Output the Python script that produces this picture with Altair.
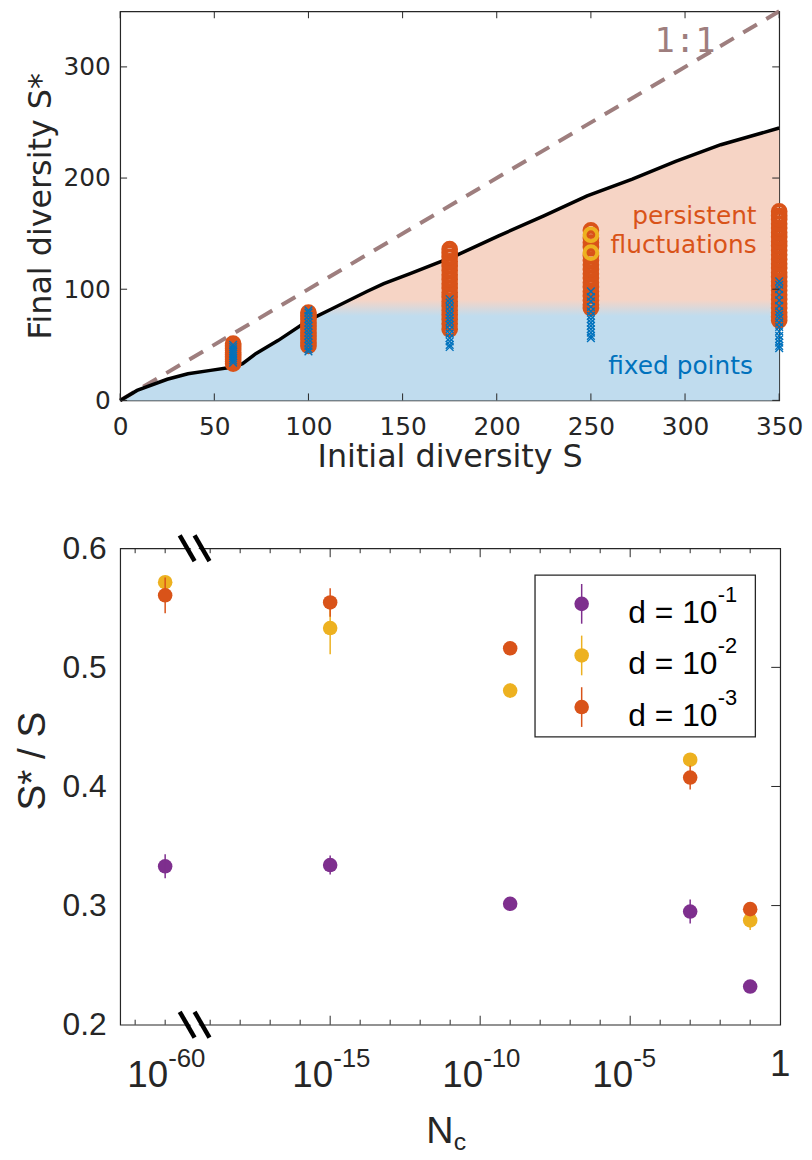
import altair as alt
import pandas as pd

# ---------------- top panel data ----------------
S_curve = [0, 9, 25, 36, 48, 60, 65, 72, 84, 100, 112, 131, 140, 154, 178, 201, 225, 248, 272, 295, 319, 350]
Sstar_curve = [0, 9, 19, 24, 27, 30, 33, 42, 54, 72, 82, 98, 105, 114, 130, 148, 166, 184, 199, 215, 230, 245]
diag_S = [0, 350]

initial_S = [60, 100, 175, 250, 350]
fluct_S60 = [33, 35, 37, 39, 41, 43, 45, 47, 49, 51]
fluct_S100 = [49, 52, 55, 58, 61, 64, 67, 70, 73, 76, 79]
fluct_S175 = [64, 69, 73, 77, 81, 85, 89, 93, 97, 101, 105, 109, 113, 117, 121, 125, 129, 133, 136]
fluct_S250 = [83, 86, 90, 94, 98, 102, 106, 110, 114, 118, 122, 126, 130, 138, 142, 146, 153]
fluct_S350 = [72, 75, 79, 83, 87, 91, 95, 99, 103, 107, 111, 115, 119, 123, 127, 131, 135, 139,
              143, 147, 151, 155, 159, 163, 166, 170]
fixed_S60 = [34, 36, 38, 40, 42, 44, 46, 48, 50]
fixed_S100 = [44, 46, 49, 52, 55, 58, 61, 64, 67, 70, 73, 76, 79, 81]
fixed_S175 = [48, 50, 53, 56, 60, 64, 68, 71, 74, 77, 80, 84, 88, 91]
fixed_S250 = [56, 58, 61, 64, 67, 70, 73, 76, 80, 84, 89, 93, 98]
fixed_S350 = [47, 49, 52, 55, 58, 62, 66, 70, 74, 77, 80, 85, 90, 95, 100, 104, 107]
fluct_lists = [fluct_S60, fluct_S100, fluct_S175, fluct_S250, fluct_S350]
fixed_lists = [fixed_S60, fixed_S100, fixed_S175, fixed_S250, fixed_S350]
yellow_S = [250, 250]
yellow_Sstar = [133, 149]

top_x_ticks = [0, 50, 100, 150, 200, 250, 300, 350]
top_y_ticks = [0, 100, 200, 300]

# ---------------- bottom panel data ----------------
Nc_exp = [-60, -15, -9, -3, -1]
mean_d1 = [0.333, 0.334, 0.3015, 0.295, 0.232]
err_d1 = [0.010, 0.008, 0.003, 0.010, 0.003]
mean_d2 = [0.5715, 0.533, 0.4805, 0.4225, 0.2875]
err_d2 = [0.005, 0.022, 0.006, 0.004, 0.008]
mean_d3 = [0.5605, 0.5545, 0.516, 0.4075, 0.297]
err_d3 = [0.015, 0.012, 0.003, 0.010, 0.003]
d_exp = ["-1", "-2", "-3"]
series_colors = ["#7e2f8e", "#edb120", "#d95319"]

bot_y_ticks = [0.2, 0.3, 0.4, 0.5, 0.6]
bot_label_exp = [-60, -15, -10, -5]
bot_major_exp = [-15, -10, -5]
bot_minor_exp = [-61, -60, -19, -18, -17, -16, -14, -13, -12, -11, -9, -8, -7, -6, -4, -3, -2, -1]

INK = "#262626"
FT = "DejaVu Sans"
FB = "Liberation Sans"
ORANGE = "#d95319"
BLUE = "#0072bd"
YELLOW = "#edb120"
BROWN = "#9e7e7e"


def axis_pos(e):
    # broken log axis: exponents below -20 are drawn left of the break
    return e if e > -20 else e + 39.5


# ================= top panel =================
W1, H1 = 664, 392
xs = alt.Scale(domain=[0, 350], nice=False, zero=False)
ys = alt.Scale(domain=[0, 350], nice=False, zero=False)
x_ax = alt.Axis(values=top_x_ticks, title="Initial diversity S", grid=False, domain=False,
                ticks=False, tickSize=0, labelFont=FT, labelFontSize=25, labelColor=INK,
                labelPadding=14, labelFlush=False, titleFont=FT, titleFontSize=32,
                titleFontWeight="normal", titleColor=INK, titlePadding=3)
y_ax = alt.Axis(values=top_y_ticks, title="Final diversity S*", grid=False, domain=False,
                ticks=False, tickSize=0, labelFont=FT, labelFontSize=25, labelColor=INK,
                labelPadding=10, labelFlush=False, titleFont=FT, titleFontSize=32,
                titleFontWeight="normal", titleColor=INK, titleX=-80, titleBaseline="middle")

curve_df = pd.DataFrame({"S": S_curve, "Sstar": Sstar_curve})
grad = alt.Gradient(gradient="linear", x1=0, x2=0, y1=0, y2=1,
                    stops=[alt.GradientStop(color="#f6d4c5", offset=0),
                           alt.GradientStop(color="#f6d4c5", offset=0.63),
                           alt.GradientStop(color="#c0dcee", offset=0.69),
                           alt.GradientStop(color="#c0dcee", offset=1)])
area = alt.Chart(curve_df).mark_area(color=grad, opacity=1).encode(
    x=alt.X("S:Q", scale=xs, axis=x_ax), y=alt.Y("Sstar:Q", scale=ys, axis=y_ax))
diag = alt.Chart(pd.DataFrame({"S": diag_S, "Sstar": diag_S})).mark_line(
    color=BROWN, strokeWidth=4, strokeDash=[16, 11]).encode(x="S:Q", y="Sstar:Q")
line = alt.Chart(curve_df).mark_line(color="black", strokeWidth=3.5).encode(x="S:Q", y="Sstar:Q")

fl_rows, fx_rows = [], []
for s, fl, fx in zip(initial_S, fluct_lists, fixed_lists):
    fl_rows += [{"S": s, "Sstar": v} for v in fl]
    fx_rows += [{"S": s, "Sstar": v} for v in fx]
fluct = alt.Chart(pd.DataFrame(fl_rows)).mark_point(
    shape="circle", filled=False, size=165, strokeWidth=4, color=ORANGE, opacity=1
).encode(x="S:Q", y="Sstar:Q")
yellow = alt.Chart(pd.DataFrame({"S": yellow_S, "Sstar": yellow_Sstar})).mark_point(
    shape="circle", filled=False, size=165, strokeWidth=4, color=YELLOW, opacity=1
).encode(x="S:Q", y="Sstar:Q")
fixed = alt.Chart(pd.DataFrame(fx_rows)).mark_point(
    shape="M-1,-1L1,1M-1,1L1,-1", filled=False, size=60, strokeWidth=1.4, color=BLUE, opacity=1
).encode(x="S:Q", y="Sstar:Q")

txt_df = pd.DataFrame({"S": [338, 338], "Sstar": [166, 140], "t": ["persistent", "fluctuations"]})
txt_fl = alt.Chart(txt_df).mark_text(font=FT, fontSize=25, color=ORANGE, align="right",
                                     baseline="middle").encode(x="S:Q", y="Sstar:Q", text="t:N")
txt_fp = alt.Chart(pd.DataFrame({"S": [336], "Sstar": [31], "t": ["fixed points"]})).mark_text(
    font=FT, fontSize=25, color=BLUE, align="right", baseline="middle").encode(x="S:Q", y="Sstar:Q", text="t:N")
txt_11 = alt.Chart(pd.DataFrame({"S": [300], "Sstar": [322], "t": ["1:1"]})).mark_text(
    font="DejaVu Sans Mono", fontSize=34, color=BROWN, align="center", baseline="middle"
).encode(x="S:Q", y="Sstar:Q", text="t:N")

xt = pd.DataFrame({"S": top_x_ticks})
yt = pd.DataFrame({"Sstar": top_y_ticks})
tk = dict(color=INK, strokeWidth=1)
tick_b = alt.Chart(xt).mark_rule(**tk).encode(x="S:Q", y=alt.value(H1), y2=alt.value(H1 - 7))
tick_t = alt.Chart(xt).mark_rule(**tk).encode(x="S:Q", y=alt.value(0), y2=alt.value(7))
tick_l = alt.Chart(yt).mark_rule(**tk).encode(y="Sstar:Q", x=alt.value(0), x2=alt.value(7))
tick_r = alt.Chart(yt).mark_rule(**tk).encode(y="Sstar:Q", x=alt.value(W1), x2=alt.value(W1 - 7))

top = alt.layer(area, diag, line, fluct, yellow, fixed, txt_fl, txt_fp, txt_11,
                tick_b, tick_t, tick_l, tick_r).properties(width=W1, height=H1)

# ================= bottom panel =================
W2, H2 = 665, 480
xb = alt.Scale(domain=[-22, 0], nice=False, zero=False)
yb = alt.Scale(domain=[0.2, 0.6], nice=False, zero=False)
yb_ax = alt.Axis(values=bot_y_ticks, format=".1f", title="S* / S", grid=False, domain=False,
                 ticks=False, tickSize=0, labelFont=FB, labelFontSize=32, labelColor=INK,
                 labelPadding=14, labelFlush=False, titleFont=FB, titleFontSize=39,
                 titleFontWeight="normal", titleColor=INK, titleX=-88, titleY=214,
                 titleBaseline="middle")

one = pd.DataFrame({"k": [0]})
pos = [axis_pos(e) for e in Nc_exp]
layers = []
for i, (means, errs, col) in enumerate(zip([mean_d1, mean_d2, mean_d3], [err_d1, err_d2, err_d3],
                                           series_colors)):
    df = pd.DataFrame({"pos": pos, "val": means,
                       "lo": [m - e for m, e in zip(means, errs)],
                       "hi": [m + e for m, e in zip(means, errs)]})
    yenc = alt.Y("val:Q", scale=yb, axis=yb_ax) if i == 0 else alt.Y("val:Q")
    pts = alt.Chart(df).mark_point(shape="circle", filled=True, size=215, color=col, opacity=1).encode(
        x=alt.X("pos:Q", scale=xb, axis=None), y=yenc)
    bars = alt.Chart(df).mark_rule(color=col, strokeWidth=1.5).encode(
        x=alt.X("pos:Q", scale=xb, axis=None), y=alt.Y("lo:Q"), y2="hi:Q")
    if i == 0:
        layers += [pts, bars]
    else:
        layers += [bars, pts]

# inward ticks
maj = pd.DataFrame({"pos": bot_major_exp})
mnr = pd.DataFrame({"pos": [axis_pos(e) for e in bot_minor_exp]})
yr = pd.DataFrame({"val": [0.3, 0.4, 0.5]})
for d, L in [(maj, 9), (mnr, 5)]:
    layers.append(alt.Chart(d).mark_rule(color=INK, strokeWidth=1).encode(
        x="pos:Q", y=alt.value(H2), y2=alt.value(H2 - L)))
    layers.append(alt.Chart(d).mark_rule(color=INK, strokeWidth=1).encode(
        x="pos:Q", y=alt.value(0), y2=alt.value(L)))
layers.append(alt.Chart(yr).mark_rule(color=INK, strokeWidth=1).encode(
    y="val:Q", x=alt.value(W2), x2=alt.value(W2 - 9)))

# axis break marks
for yy in [0, H2]:
    layers.append(alt.Chart(one).mark_rule(color="white", strokeWidth=7).encode(
        x=alt.datum(-19.60), x2=alt.datum(-19.44), y=alt.value(yy - 4), y2=alt.value(yy + 4)))
    for a, b in [(-20.015, -19.519), (-19.519, -19.023)]:
        layers.append(alt.Chart(one).mark_rule(color="black", strokeWidth=4.5).encode(
            x=alt.datum(a), x2=alt.datum(b), y=alt.value(yy - 13), y2=alt.value(yy + 13)))

# x tick labels with superscripts
lab = pd.DataFrame({"pos": [axis_pos(e) for e in bot_label_exp],
                    "base": ["10"] * len(bot_label_exp),
                    "sup": [str(e) for e in bot_label_exp]})
layers.append(alt.Chart(lab).mark_text(font=FB, fontSize=37, color=INK, align="right",
                                       baseline="middle", dx=3).encode(
    x="pos:Q", y=alt.value(H2 + 52), text="base:N"))
layers.append(alt.Chart(lab).mark_text(font=FB, fontSize=26, color=INK, align="left",
                                       baseline="middle", dx=3).encode(
    x="pos:Q", y=alt.value(H2 + 35), text="sup:N"))
layers.append(alt.Chart(pd.DataFrame({"pos": [0], "t": ["1"]})).mark_text(
    font=FB, fontSize=37, color=INK, align="center", baseline="middle").encode(
    x="pos:Q", y=alt.value(H2 + 41), text="t:N"))
# x title N_c
layers.append(alt.Chart(one).mark_text(font=FB, fontSize=38, color=INK, align="center",
                                       baseline="alphabetic", text="N").encode(
    x=alt.value(322), y=alt.value(H2 + 119)))
layers.append(alt.Chart(one).mark_text(font=FB, fontSize=25, color=INK, align="left",
                                       baseline="alphabetic", text="c").encode(
    x=alt.value(336), y=alt.value(H2 + 126)))

# legend box
layers.append(alt.Chart(one).mark_rect(fill="white", stroke=INK, strokeWidth=1.3).encode(
    x=alt.value(418), x2=alt.value(640), y=alt.value(27), y2=alt.value(190)))
for i, (col, ex) in enumerate(zip(series_colors, d_exp)):
    yc = 56 + i * 52
    layers.append(alt.Chart(one).mark_rule(color=col, strokeWidth=1.5).encode(
        x=alt.value(465), y=alt.value(yc - 20), y2=alt.value(yc + 20)))
    layers.append(alt.Chart(one).mark_point(shape="circle", filled=True, size=215, color=col,
                                            opacity=1).encode(x=alt.value(465), y=alt.value(yc)))
    layers.append(alt.Chart(one).mark_text(font=FB, fontSize=32, color="black", align="left",
                                           baseline="middle", text="d = 10").encode(
        x=alt.value(512), y=alt.value(yc + 9)))
    layers.append(alt.Chart(one).mark_text(font=FB, fontSize=22, color="black", align="left",
                                           baseline="middle", text=ex).encode(
        x=alt.value(602), y=alt.value(yc - 9)))

bottom = alt.layer(*layers).properties(width=W2, height=H2)

chart = alt.vconcat(top, bottom, spacing=149, bounds="flush").properties(
    padding={"left": 5, "top": -10, "right": 0, "bottom": 0}
).configure_view(stroke=INK, strokeWidth=1.2)

chart.save("out.html", embed_options={"renderer": "svg", "actions": False})
